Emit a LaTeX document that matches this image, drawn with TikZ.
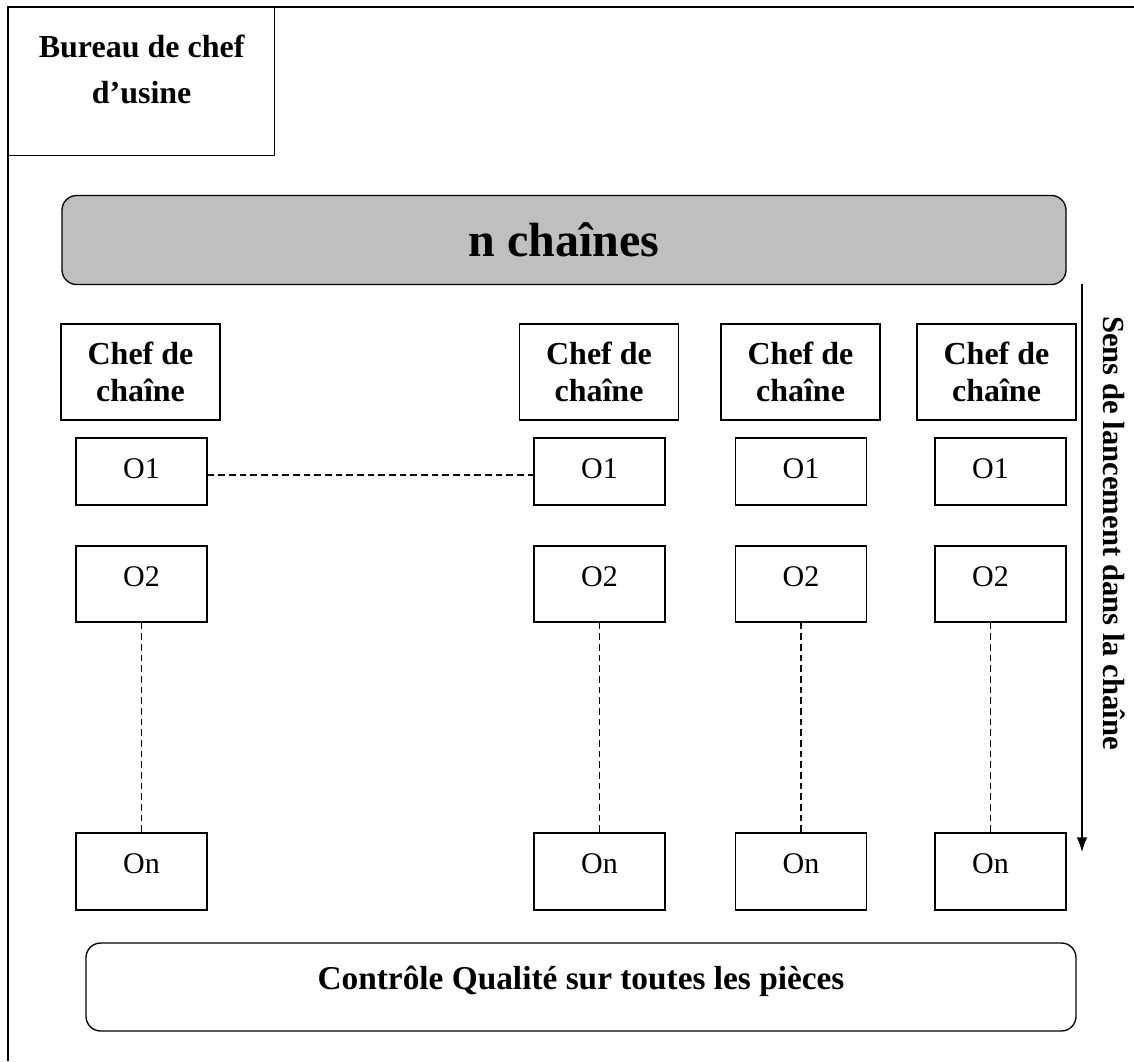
\documentclass[tikz,border=0pt]{standalone}
\usepackage{fontspec}
\setmainfont{Liberation Serif}
\usetikzlibrary{positioning,arrows.meta}

\begin{document}
\begin{tikzpicture}[x=0.75pt,y=-0.75pt,>={Latex[length=11pt,width=8pt]},
  chef/.style={draw,line width=1pt,minimum width=119.25pt,minimum height=72pt,
    align=center,font=\fontsize{24}{27.75}\selectfont\bfseries},
  op/.style={draw,line width=1pt,minimum width=98.25pt,inner ysep=0pt,
    text height=30pt,text depth=#1,font=\fontsize{22.5}{27}\selectfont},
  barre/.style={draw,line width=1pt,rounded corners=11pt},
  tirets/.style={line width=1pt,dash pattern=on 5pt off 3pt}]
  \useasboundingbox (0,0) rectangle (1134,1061);
% cadre de l'atelier
  \draw[line width=1.2pt] (8,1061) -- (8,7) -- (1134,7);
  \node[draw,line width=1pt,anchor=north west,minimum width=199.5pt,minimum height=111pt]
    (bureau) at (8,7) {};
  \node[below=17.5pt of bureau.north,align=center,font=\fontsize{24}{34.5}\selectfont\bfseries]
    (titre) {Bureau de chef\\d'usine};
% les chaines
  \node[barre,fill=black!25,minimum width=753pt,minimum height=66.75pt,
    font=\fontsize{36}{40}\selectfont\bfseries] (nch) at (564,240) {n chaînes};
  \foreach \i/\cx/\ox/\d in {1/140.5/141.5/0pt,2/599/599.5/0pt,3/800.5/801/0pt,4/996.5/1000.5/7.5pt} {
    \node[chef] (chef\i) at (\cx,372) {Chef de\\chaîne};
    \node[op=20.25pt] (un\i) at (\ox,471.5) {O1\hspace*{\d}\hspace*{\d}};
    \node[op=27pt] (deux\i) at (\ox,584) {O2\hspace*{\d}\hspace*{\d}};
    \node[op=27.75pt] (n\i) at (\ox,871.5) {On\hspace*{\d}\hspace*{\d}};
    \draw[tirets] ([xshift=-\d]deux\i.south) -- ([xshift=-\d]n\i.north);
  }
  \draw[tirets] ([yshift=-2.6pt]un1.east) -- ([yshift=-2.6pt]un2.west);
% sens de lancement
  \coordinate (haut) at (1082,284);
  \coordinate (bas) at (1082,852);
  \draw[line width=1pt,->] (haut) -- (bas);
  \node[rotate=-90,font=\fontsize{23}{27}\selectfont\bfseries] (sens) at (1114,533)
    {Sens de lancement dans la chaîne};
% controle
  \node[barre,minimum width=742.5pt,minimum height=66pt,text height=28.5pt,text depth=25.5pt,
    inner ysep=0pt,font=\fontsize{25}{29}\selectfont\bfseries] (ctrl) at (581,987)
    {Contrôle Qualité sur toutes les pièces};
\end{tikzpicture}
\end{document}
